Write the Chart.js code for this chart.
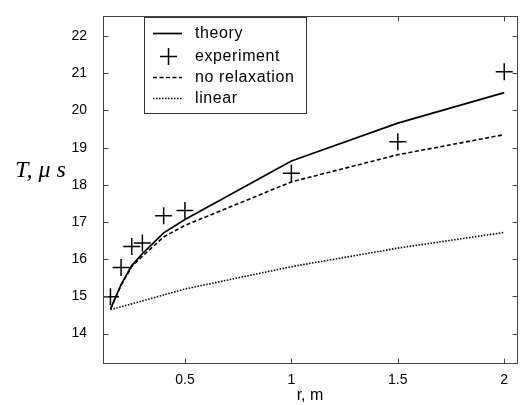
<!DOCTYPE html>
<html>
<head>
<meta charset="utf-8">
<script src="https://cdn.jsdelivr.net/npm/chart.js@4/dist/chart.umd.min.js"></script>
<style>
  body { margin: 0; background: #fff; }
  canvas { display: block; }
</style>
</head>
<body>
<canvas id="myChart" width="527" height="405"></canvas>
<script>
// radius values, m
const radii = [0.15, 0.2, 0.25, 0.3, 0.4, 0.5, 1, 1.5, 2];
// time values, microseconds
const theory = [14.66, 15.32, 15.83, 16.15, 16.71, 17.07, 18.64, 19.66, 20.48];
const experiment = [14.99, 15.78, 16.34, 16.44, 17.17, 17.31, 18.31, 19.16, 21.04];
const noRelaxation = [14.66, 15.3, 15.8, 16.08, 16.6, 16.91, 18.08, 18.81, 19.35];
const linear = [14.65, 14.72, 14.8, 14.88, 15.04, 15.2, 15.8, 16.3, 16.72];

const xTicks = [0.5, 1, 1.5, 2];
const yTicks = [14, 15, 16, 17, 18, 19, 20, 21, 22];
const seriesNames = ['theory', 'experiment', 'no relaxation', 'linear'];

const toPoints = (ys) => radii.map((r, i) => ({ x: r, y: ys[i] }));

// draws the matlab style box, inner ticks, legend and axis titles
const matlabFrame = {
    id: 'matlabFrame',
    afterDraw(chart) {
        const ctx = chart.ctx;
        const a = chart.chartArea;
        const xs = chart.scales.x;
        const ys = chart.scales.y;
        const L = Math.round(a.left) + 0.5, R = Math.round(a.right) + 0.5;
        const T = Math.round(a.top) + 0.5, B = Math.round(a.bottom) + 0.5;

        ctx.save();
        ctx.strokeStyle = '#444';
        ctx.lineWidth = 1;
        ctx.strokeRect(L, T, R - L, B - T);

        ctx.beginPath();
        xTicks.forEach(v => {
            const px = Math.round(xs.getPixelForValue(v)) + 0.5;
            ctx.moveTo(px, B); ctx.lineTo(px, B - 5);
            ctx.moveTo(px, T); ctx.lineTo(px, T + 5);
        });
        yTicks.forEach(v => {
            const py = Math.round(ys.getPixelForValue(v)) + 0.5;
            ctx.moveTo(L, py); ctx.lineTo(L + 5, py);
            ctx.moveTo(R, py); ctx.lineTo(R - 5, py);
        });
        ctx.stroke();

        // legend
        const bx = 144.5, by = 17.5, bw = 162, bh = 96;
        ctx.fillStyle = '#fff';
        ctx.fillRect(bx, by, bw, bh);
        ctx.strokeStyle = '#333';
        ctx.strokeRect(bx, by, bw, bh);
        const rows = [33.5, 56.5, 77.5, 98.5];
        chart.data.datasets.forEach((ds, i) => {
            const y = rows[i];
            ctx.strokeStyle = '#000';
            ctx.lineWidth = ds.borderWidth;
            ctx.setLineDash(ds.borderDash || []);
            ctx.beginPath();
            if (ds.showLine === false) {
                ctx.moveTo(168.5 - 8.5, y); ctx.lineTo(168.5 + 8.5, y);
                ctx.moveTo(168.5, y - 8.5); ctx.lineTo(168.5, y + 8.5);
            } else {
                ctx.moveTo(153, y); ctx.lineTo(182, y);
            }
            ctx.stroke();
            ctx.setLineDash([]);
            ctx.fillStyle = '#000';
            ctx.font = '16px "Liberation Sans", Arial, sans-serif';
            ctx.letterSpacing = '0.6px';
            ctx.textBaseline = 'middle';
            ctx.textAlign = 'left';
            ctx.fillText(ds.label, 195, y);
        });
        ctx.letterSpacing = '0px';

        // axis titles
        ctx.fillStyle = '#000';
        ctx.font = 'italic 24px "Liberation Serif", "Times New Roman", serif';
        ctx.textBaseline = 'alphabetic';
        ctx.textAlign = 'left';
        ctx.fillText('T, \u03bc s', 15, 177);

        ctx.font = '16px "Liberation Sans", Arial, sans-serif';
        ctx.textAlign = 'center';
        ctx.textBaseline = 'middle';
        ctx.fillText('r, m', (a.left + a.right) / 2, 396);
        ctx.restore();
    }
};

const ctx = document.getElementById('myChart').getContext('2d');
const myChart = new Chart(ctx, {
    type: 'line',
    data: {
        datasets: [{
            label: seriesNames[0],
            data: toPoints(theory),
            borderColor: '#000',
            borderWidth: 1.7,
            pointRadius: 0,
            fill: false
        }, {
            label: seriesNames[1],
            data: toPoints(experiment),
            showLine: false,
            pointStyle: 'cross',
            pointRadius: 8.5,
            borderColor: '#000',
            borderWidth: 1.5
        }, {
            label: seriesNames[2],
            data: toPoints(noRelaxation),
            borderColor: '#000',
            borderWidth: 1.6,
            borderDash: [4, 2.5],
            pointRadius: 0,
            fill: false
        }, {
            label: seriesNames[3],
            data: toPoints(linear),
            borderColor: '#000',
            borderWidth: 1.6,
            borderDash: [1.5, 1.5],
            pointRadius: 0,
            fill: false
        }]
    },
    options: {
        responsive: false,
        animation: false,
        layout: { padding: { top: 9, right: 0, left: 0, bottom: 0 } },
        plugins: {
            legend: { display: false },
            tooltip: { enabled: false }
        },
        scales: {
            x: {
                type: 'linear',
                min: 0.115,
                max: 2.06,
                afterBuildTicks: (scale) => { scale.ticks = xTicks.map(v => ({ value: v })); },
                afterFit: (scale) => { scale.height = 42; },
                grid: { display: false },
                border: { display: false },
                ticks: {
                    color: '#000',
                    font: { family: '"Liberation Sans", Arial, sans-serif', size: 14 },
                    padding: 1,
                    maxRotation: 0,
                    callback: (v) => String(v)
                }
            },
            y: {
                type: 'linear',
                min: 13.21,
                max: 22.53,
                afterBuildTicks: (scale) => { scale.ticks = yTicks.map(v => ({ value: v })); },
                afterFit: (scale) => { scale.width = 103; },
                grid: { display: false },
                border: { display: false },
                ticks: {
                    color: '#000',
                    font: { family: '"Liberation Sans", Arial, sans-serif', size: 14 },
                    padding: 8,
                    callback: (v) => String(v)
                }
            }
        }
    },
    plugins: [matlabFrame]
});
</script>
</body>
</html>
